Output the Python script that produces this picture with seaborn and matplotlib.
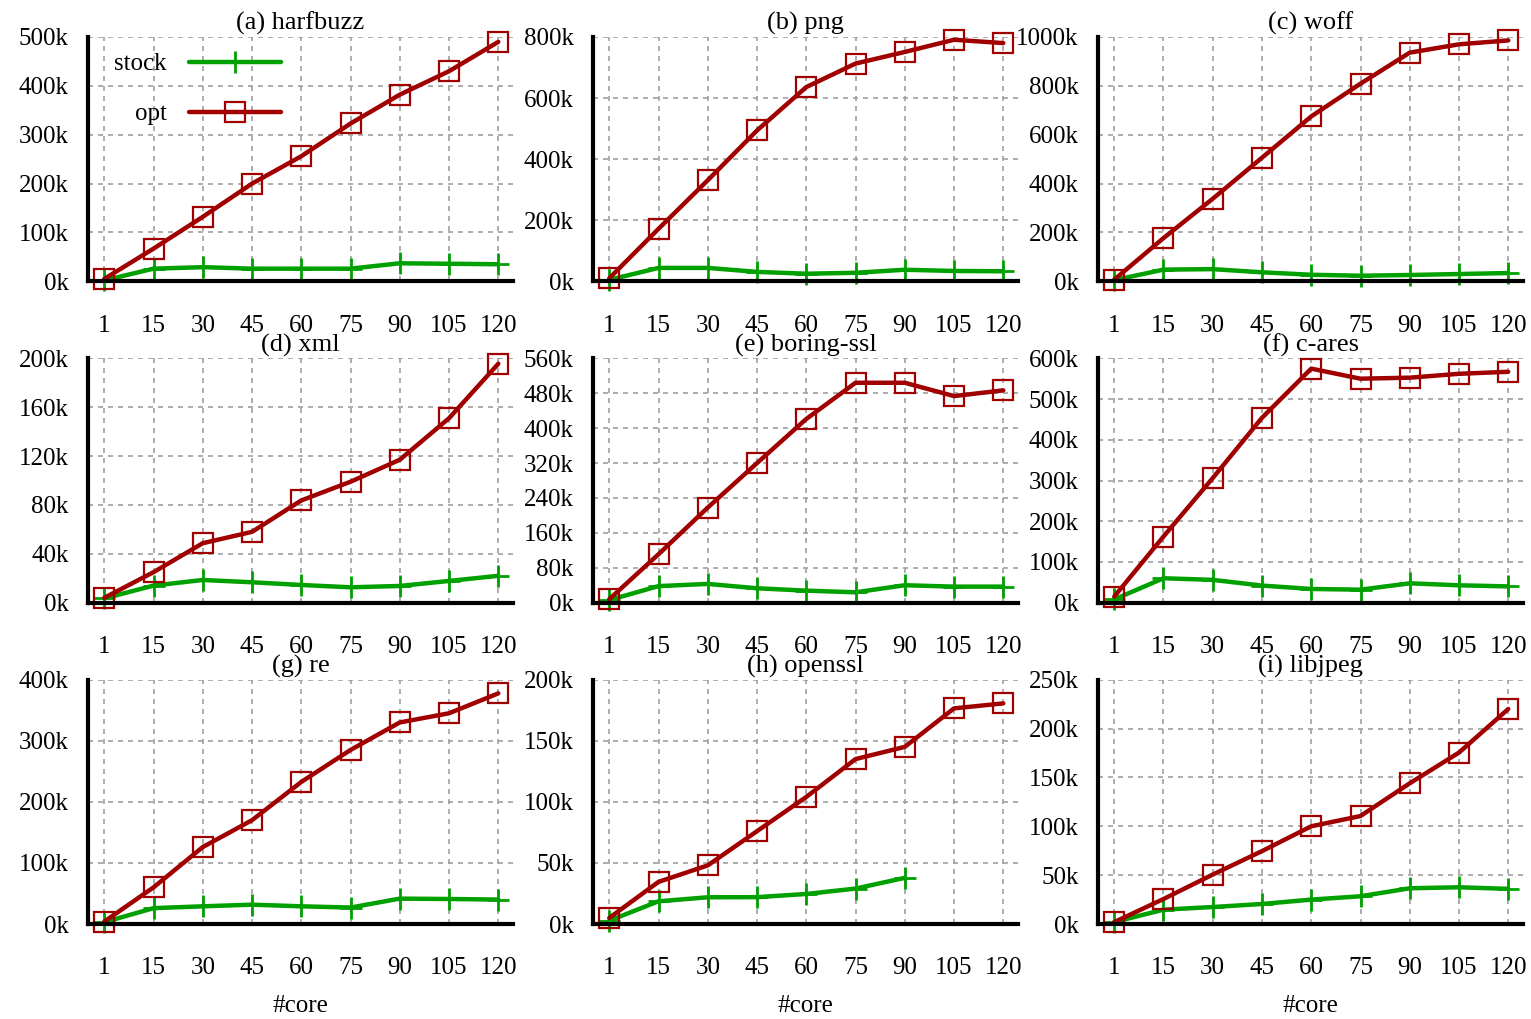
import numpy as np
import matplotlib
matplotlib.use('Agg')
import matplotlib.pyplot as plt
import seaborn as sns

# x axis: number of cores (evenly spaced categories)
cores = [1, 15, 30, 45, 60, 75, 90, 105, 120]

# throughput, in thousands
harfbuzz_stock = [2, 26, 29, 26, 26, 26, 37, 36, 35]
harfbuzz_opt = [5, 67, 132, 200, 256, 323, 382, 430, 490]
png_stock = [5, 44, 44, 31, 25, 28, 38, 34, 33]
png_opt = [10, 172, 331, 494, 636, 713, 751, 791, 780]
woff_stock = [5, 48, 50, 37, 27, 23, 26, 30, 34]
woff_opt = [7, 177, 338, 506, 675, 809, 936, 970, 986]
xml_stock = [3.5, 14, 18.6, 16.7, 14.5, 12.6, 13.7, 17.8, 22]
xml_opt = [4, 25, 48.7, 58, 83.7, 99, 117, 151, 195.6]
boringssl_stock = [6, 38, 43, 33, 27.6, 23.8, 40, 36.8, 36.8]
boringssl_opt = [8, 111, 218, 320, 421, 504, 504, 473.5, 486.6]
cares_stock = [8, 60, 56, 42, 33.7, 32, 47.6, 42.7, 40]
cares_opt = [15, 162.5, 306, 454, 574.7, 550, 552.5, 562, 567]
re_stock = [3, 26, 29, 31.7, 29, 27, 41.6, 41, 40]
re_opt = [4, 60, 126, 170, 232.6, 285, 330, 345, 377.6]
openssl_stock = [2.7, 18.6, 21.9, 22, 24.6, 29, 37.8, np.nan, np.nan]
openssl_opt = [5, 34.5, 48, 76, 104, 135, 145, 176.5, 180.6]
libjpeg_stock = [2, 14.7, 17.4, 20.5, 25, 28.4, 36.6, 37.6, 36]
libjpeg_opt = [2, 25.6, 50.6, 74.6, 100, 110.5, 144, 175.4, 220]

titles = ['(a) harfbuzz', '(b) png', '(c) woff', '(d) xml', '(e) boring-ssl',
          '(f) c-ares', '(g) re', '(h) openssl', '(i) libjpeg']
stocks = [harfbuzz_stock, png_stock, woff_stock, xml_stock, boringssl_stock,
          cares_stock, re_stock, openssl_stock, libjpeg_stock]
opts = [harfbuzz_opt, png_opt, woff_opt, xml_opt, boringssl_opt,
        cares_opt, re_opt, openssl_opt, libjpeg_opt]
ymaxs = [500, 800, 1000, 200, 560, 600, 400, 200, 250]
ysteps = [100, 200, 200, 40, 80, 100, 100, 50, 50]

GREEN = '#00a000'
RED = '#a00000'

sns.set_style('white')
plt.rcParams['font.family'] = ['Liberation Serif', 'DejaVu Serif']
plt.rcParams['font.size'] = 18
for k in ['text.color', 'axes.labelcolor', 'xtick.color', 'ytick.color']:
    plt.rcParams[k] = 'black'

fig, axes = plt.subplots(3, 3, figsize=(15.31, 10.19), dpi=100)
fig.subplots_adjust(left=0.0575, right=0.9948, top=0.9637, bottom=0.0932,
                    wspace=0.188, hspace=0.315)

pos = np.arange(len(cores))
for i, ax in enumerate(axes.flat):
    sns.lineplot(x=pos, y=stocks[i], ax=ax, color=GREEN, lw=3.2, marker='+',
                 markersize=16, markeredgewidth=2, markeredgecolor=GREEN,
                 label='stock', legend=False, clip_on=False)
    sns.lineplot(x=pos, y=opts[i], ax=ax, color=RED, lw=3.2, marker='s',
                 markersize=14, markerfacecolor='none', markeredgecolor=RED,
                 markeredgewidth=1.6, label='opt', legend=False, clip_on=False)

    ax.set_xlim(-0.33, 8.3)
    ax.set_ylim(0, ymaxs[i])
    ax.set_xticks(pos)
    ax.set_xticklabels([str(c) for c in cores])
    yt = np.arange(0, ymaxs[i] + 1, ysteps[i])
    ax.set_yticks(yt)
    ax.set_yticklabels([f'{v}k' for v in yt])

    sns.despine(ax=ax)
    for s in ['left', 'bottom']:
        ax.spines[s].set_linewidth(3)
        ax.spines[s].set_color('black')
    ax.tick_params(axis='both', direction='in', length=14, width=3, color='black')
    ax.tick_params(axis='y', pad=14)
    ax.tick_params(axis='x', pad=24)
    ax.grid(True, color='#a0a0a0', lw=1.2, linestyle=(0, (3, 3)))
    ax.set_axisbelow(True)
    ax.set_title(titles[i], pad=5, fontsize=19)
    ax.set_xlabel('#core' if i >= 6 else '', labelpad=11)
    ax.set_ylabel('')

# legend only in the first panel, gnuplot style (text left of sample)
axes[0, 0].legend(loc='upper left', bbox_to_anchor=(0.061, 0.935), frameon=False,
                  markerfirst=False, handlelength=3.7, handletextpad=0.9,
                  labelspacing=1.1, borderpad=0, borderaxespad=0, numpoints=1)

fig.savefig('out.png', dpi=100)
